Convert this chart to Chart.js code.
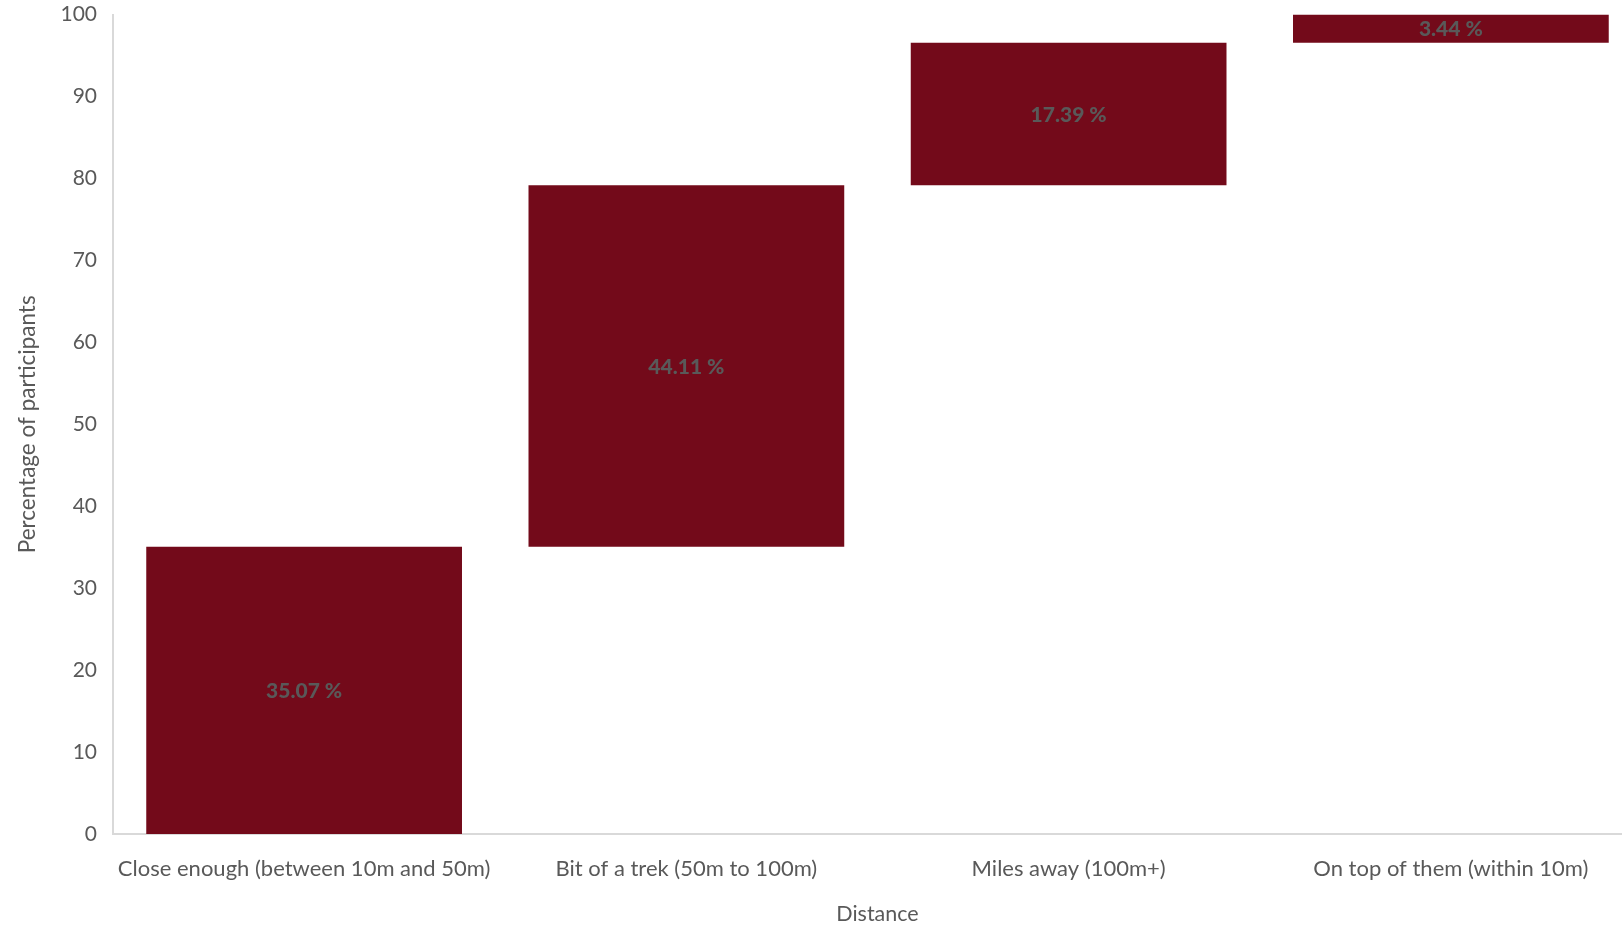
<!DOCTYPE html>
<html>
<head>
<meta charset="utf-8">
<script src="https://cdn.jsdelivr.net/npm/chart.js@4/dist/chart.umd.min.js"></script>
<style>
  html, body { margin: 0; padding: 0; background: #fff; overflow: hidden; }
  #wrap { width: 1642px; height: 941px; margin-top: -14px; }
</style>
</head>
<body>
<div id="wrap"><canvas id="chart"></canvas></div>
<script>
const categories = [
  'Close enough (between 10m and 50m)',
  'Bit of a trek (50m to 100m)',
  'Miles away (100m+)',
  'On top of them (within 10m)'
];
const shares = [35.07, 44.11, 17.39, 3.44];
const yTicks = [0, 10, 20, 30, 40, 50, 60, 70, 80, 90, 100];

// waterfall: each bar starts where the previous one ended
let total = 0;
const floating = shares.map(v => {
  const bar = [total, total + v];
  total += v;
  return bar;
});

const FONT = 'Lato, "Open Sans", sans-serif';

const barLabels = {
  id: 'barLabels',
  afterDatasetsDraw(chart) {
    const ctx = chart.ctx;
    const meta = chart.getDatasetMeta(0);
    ctx.save();
    ctx.font = '900 21px ' + FONT;
    ctx.fillStyle = '#595959';
    ctx.textAlign = 'center';
    ctx.textBaseline = 'middle';
    meta.data.forEach((bar, i) => {
      const top = Math.max(bar.y, chart.chartArea.top);
      const y = (top + bar.base) / 2;
      ctx.fillText(shares[i].toFixed(2) + ' %', bar.x, y + 1);
    });
    ctx.restore();
  }
};

new Chart(document.getElementById('chart').getContext('2d'), {
  type: 'bar',
  data: {
    labels: categories,
    datasets: [{
      data: floating,
      backgroundColor: '#730A1A',
      borderWidth: 0,
      barPercentage: 0.826,
      categoryPercentage: 1
    }]
  },
  options: {
    responsive: true,
    maintainAspectRatio: false,
    animation: false,
    layout: { padding: { top: 0, right: 0, left: 0, bottom: 0 } },
    plugins: {
      legend: { display: false },
      tooltip: { enabled: false }
    },
    scales: {
      x: {
        grid: { display: false, drawTicks: false },
        border: { color: '#d9d9d9', width: 2 },
        ticks: {
          color: '#595959',
          font: { family: FONT, size: 22 },
          padding: 22,
          maxRotation: 0
        },
        title: {
          display: true,
          text: 'Distance',
          color: '#595959',
          font: { family: FONT, size: 21.5 },
          padding: { top: 0, bottom: 0 }
        },
        afterFit(scale) { scale.height = 93; }
      },
      y: {
        min: 0,
        max: 100,
        afterBuildTicks(scale) { scale.ticks = yTicks.map(v => ({ value: v })); },
        grid: { display: false, drawTicks: false },
        border: { color: '#d9d9d9', width: 2 },
        ticks: {
          color: '#595959',
          font: { family: FONT, size: 21 },
          padding: 16
        },
        title: {
          display: true,
          text: 'Percentage of participants',
          color: '#595959',
          font: { family: FONT, size: 22.5 },
          padding: { top: 14, bottom: 0 }
        },
        afterFit(scale) { scale.width = 113; }
      }
    }
  },
  plugins: [barLabels]
});
</script>
</body>
</html>
